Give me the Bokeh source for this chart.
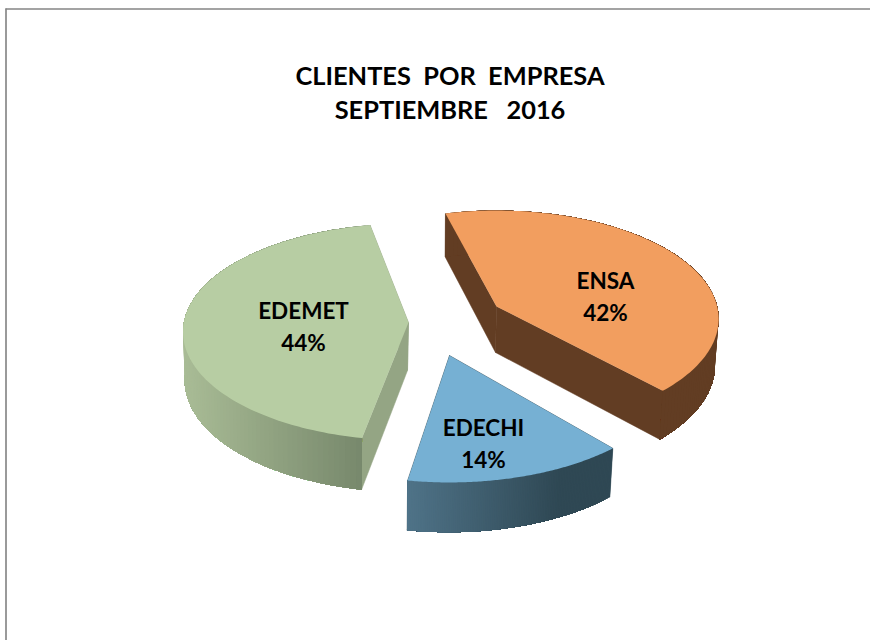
import numpy as np
from bokeh.plotting import figure
from bokeh.models import Range1d
from bokeh.core.properties import value
from bokeh.embed import file_html
from bokeh.resources import INLINE

# ---- data
title_lines = ["CLIENTES \u00a0POR \u00a0EMPRESA", "SEPTIEMBRE \u00a0\u00a02016"]
categories = ["ENSA", "EDECHI", "EDEMET"]
shares = [42, 14, 44]

# ---- style / layout
top_colors = ["#F29E5F", "#76B0D3", "#B7CDA3"]
wall_light = ["#623D23", "#4F7388", "#A9BC96"]
wall_dark = ["#623D23", "#2F4854", "#75866A"]
radial_colors = ["#623D23", "#2F4854", "#94A584"]
apex_x = [496, 449, 408]
apex_y = [306, 355, 322]
depth = [46, 46, 48]
scale_x = [0.985, 1.015, 1.0]
scale_y = [1.0, 1.05, 1.0]
rotate = [-1.2, 1.5, 2.7]
arc_shift = [0, 0, 3]
gradient_reach = [1.0, 1.35, 1.0]
label_x = [605, 483, 303]
label_y = [279.5, 426.5, 309.5]
FIRST_ANGLE = -13.7
RX, RY, K = 224.0, 107.0, 0.115

p = figure(width=870, height=640, output_backend="svg", toolbar_location=None,
           x_range=Range1d(0, 870), y_range=Range1d(640, 0), min_border=0)
p.margin = (0, 0, 0, 0)
p.axis.visible = False
p.grid.visible = False
p.outline_line_color = None
p.background_fill_color = "white"

# chart frame
p.line(x=[5.5, 5.5], y=[8, 640], line_color="#9A9A9A", line_width=2)
p.line(x=[5, 870], y=[8.5, 8.5], line_color="#858585", line_width=1.4)


def outline(i, a0, a1):
    th = np.radians(np.linspace(a0, a1, 121))
    u, v = np.sin(th), np.cos(th)
    d = 1 + K * v
    return RX * scale_x[i] * u / d, RY * scale_y[i] * v / d + arc_shift[i]


def mix(c0, c1, t):
    a = [int(c0[j:j + 2], 16) for j in (1, 3, 5)]
    b = [int(c1[j:j + 2], 16) for j in (1, 3, 5)]
    return "#%02x%02x%02x" % tuple(round(x + (y - x) * t) for x, y in zip(a, b))


angles = FIRST_ANGLE + np.concatenate([[0], np.cumsum(shares)]) * 3.6
for i in [0, 2, 1]:
    dx, dy = outline(i, angles[i] + rotate[i], angles[i + 1] + rotate[i])
    ax, ay, h = apex_x[i], apex_y[i], depth[i]
    tx, ty = ax + dx, ay - dy
    bx, by = ax - 1 + dx * 0.988, ay + h - dy * 1.03

    # radial walls
    for e in (0, -1):
        p.patch([ax, tx[e], bx[e], ax - 1], [ay, ty[e], by[e], ay + h],
                fill_color=radial_colors[i], line_color=radial_colors[i], line_width=0.5)
    # rim, painted so that each step overlaps the next one and leaves no seams
    xmin, xmax = tx.min(), tx.max()
    order = range(len(tx) - 1) if i != 2 else range(len(tx) - 2, -1, -1)
    for s in order:
        t = ((tx[s] + tx[s + 1]) / 2 - xmin) / (xmax - xmin)
        c = mix(wall_light[i], wall_dark[i], min(1.0, t * gradient_reach[i]))
        if i != 2:
            xs, ys = [*tx[s:], *bx[s:][::-1]], [*ty[s:], *by[s:][::-1]]
        else:
            xs, ys = [*tx[:s + 2], *bx[:s + 2][::-1]], [*ty[:s + 2], *by[:s + 2][::-1]]
        p.patch(xs, ys, fill_color=c, line_color=None)
    # top face
    p.patch([ax, *tx], [ay, *ty], fill_color=top_colors[i], line_color=None)

font = value("Lato")
for i, cat in enumerate(categories):
    p.text(x=[label_x[i]], y=[label_y[i]], text=[cat], text_font=font, text_font_style="bold",
           text_font_size="22.5px", text_color="#000000", text_align="center", text_baseline="middle")
    p.text(x=[label_x[i]], y=[label_y[i] + 32], text=[f"{shares[i]}%"], text_font=font,
           text_font_style="bold", text_font_size="22.5px", text_color="#000000",
           text_align="center", text_baseline="middle")
for line, y in zip(title_lines, [74.5, 108.5]):
    p.text(x=[449.5], y=[y], text=[line], text_font=font, text_font_style="bold",
           text_font_size="25.4px", text_color="#000000", text_align="center", text_baseline="middle")

open("out.html", "w").write(file_html(p, INLINE))
